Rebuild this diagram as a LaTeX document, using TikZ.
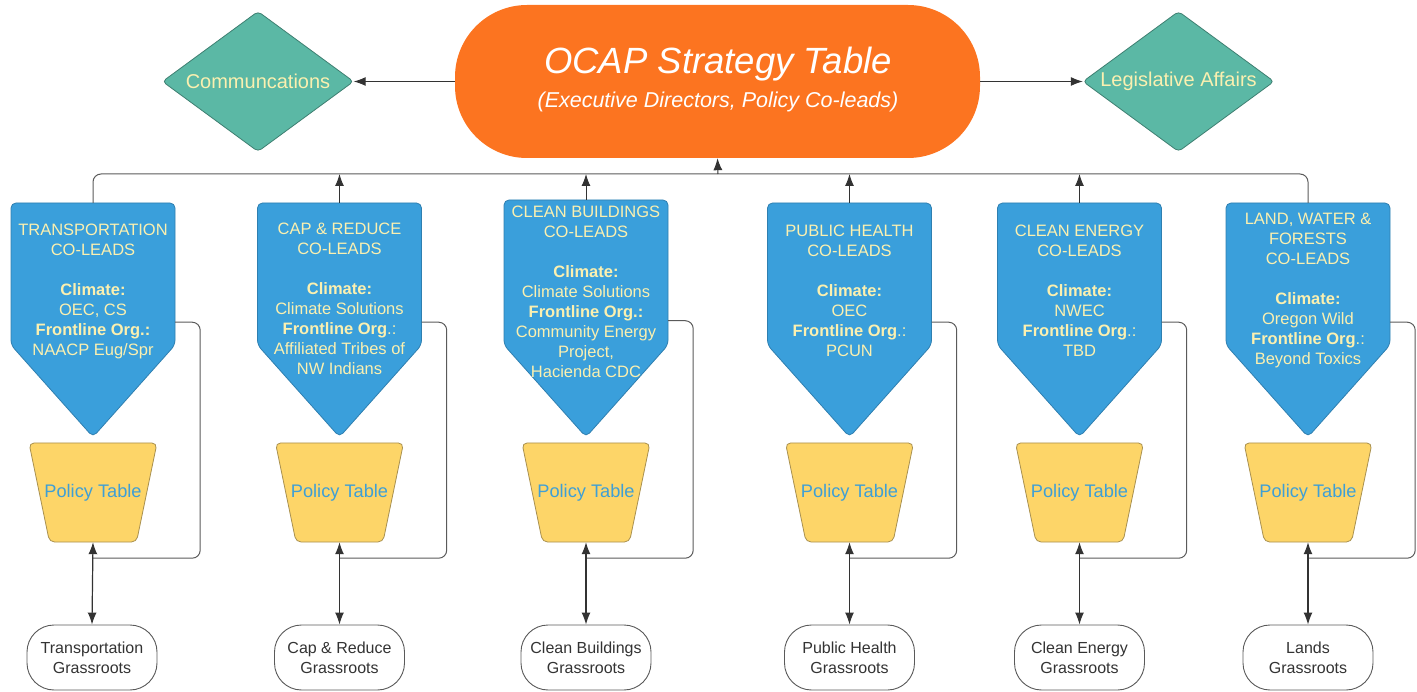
\documentclass[tikz,border=0pt]{standalone}
\usepackage{fontspec}
\setmainfont{Liberation Sans}
\usetikzlibrary{shapes.geometric,arrows.meta}
\definecolor{orangeC}{HTML}{FC7420}
\definecolor{tealC}{HTML}{5BB8A5}
\definecolor{tealD}{HTML}{3E7F71}
\definecolor{blueC}{HTML}{3A9FDB}
\definecolor{blueD}{HTML}{2F7FB0}
\definecolor{yellowC}{HTML}{FDD568}
\definecolor{yellowD}{HTML}{A89050}
\definecolor{paleC}{HTML}{FBF0B0}
\definecolor{ptxt}{HTML}{3E9FD6}
\definecolor{lineC}{HTML}{5A5A5A}
\definecolor{tipC}{HTML}{333333}
\newcommand\mkblue[2]{%
  \filldraw[fill=blueC, draw=blueD, line width=0.8pt, rounded corners=5pt]
    (#1-82,#2) -- (#1+82,#2) -- (#1+82,345) -- (#1,437) -- (#1-82,345) -- cycle;}
\newcommand\mkptable[1]{%
  \filldraw[fill=yellowC, draw=yellowD, line width=0.8pt, rounded corners=5pt]
    (#1-64,443) -- (#1+64,443) -- (#1+43.5,542) -- (#1-43.5,542) -- cycle;}
\newcommand\mkdia[1]{%
  \filldraw[fill=tealC, draw=tealD, line width=0.8pt, rounded corners=4pt]
    (#1-95.5,81.5) -- (#1,11.5) -- (#1+95.5,81.5) -- (#1,151.5) -- cycle;}
\begin{document}
\begin{tikzpicture}[x=1pt,y=-1pt,
  conn/.style={draw=lineC, line width=1pt},
  arr/.style={conn, -{Latex[length=12pt,width=9pt]}, color=tipC},
  darr/.style={conn, {Latex[length=12pt,width=9pt]}-{Latex[length=12pt,width=9pt]}, color=tipC, line width=1.2pt},
  holder/.style={rectangle, inner sep=0pt, minimum width=164pt, minimum height=234pt, anchor=north},
  ptholder/.style={rectangle, inner sep=0pt, minimum width=128pt, minimum height=99pt, text=ptxt, font=\fontsize{18.2}{20}\selectfont},
  btext/.style={align=center, text=paleC, font=\fontsize{16.5}{20}\selectfont, inner sep=0pt},
  grass/.style={draw=lineC, line width=0.9pt, fill=white, rounded corners=27pt, minimum width=130pt, minimum height=65pt, align=center, text=tipC, font=\fontsize{16}{20}\selectfont, inner sep=0pt},
  dia/.style={rectangle, minimum width=191pt, minimum height=140pt, inner sep=0pt, text=paleC, font=\fontsize{20}{22}\selectfont},
]
\useasboundingbox (0,0) rectangle (1417,692);

% top
\node[fill=orangeC, rounded corners=72pt, minimum width=525pt, minimum height=153pt, inner sep=0pt] (o) at (717.5,81.5) {};
\node[text=white, font=\itshape\fontsize{36.5}{40}\selectfont, inner sep=0pt] (ot) at (718,64) {OCAP Strategy Table};
\node[text=white, font=\itshape\fontsize{21.5}{24}\selectfont, inner sep=0pt] (os) at (718,102) {(Executive Directors, Policy Co-leads)};
\mkdia{258}
\mkdia{1178.5}
\node[dia] (com) at (258,81.5) {Communcations};
\node[dia] (leg) at (1178.5,81.5) {Legislative Affairs};
\draw[arr] (o.west) -- (com.east);
\draw[arr] (o.east) -- (leg.west);

% blue boxes
\mkblue{93}{203}
\mkblue{339.5}{203}
\mkblue{586}{200}
\mkblue{849.5}{203}
\mkblue{1079.5}{203}
\mkblue{1308}{203}
\node[holder] (b1) at (93,203) {};
\node[holder] (b2) at (339.5,203) {};
\node[holder, minimum height=237pt] (b3) at (586,200) {};
\node[holder] (b4) at (849.5,203) {};
\node[holder] (b5) at (1079.5,203) {};
\node[holder] (b6) at (1308,203) {};

\node[btext] (t1) at (93,291) {TRANSPORTATION\\CO-LEADS\\[20pt]\textbf{Climate:}\\OEC, CS\\\textbf{Frontline Org.:}\\NAACP Eug/Spr};
\node[btext] (t2) at (339.5,299) {CAP \& REDUCE\\CO-LEADS\\[20pt]\textbf{Climate:}\\Climate Solutions\\\textbf{Frontline Org}.:\\Affiliated Tribes of\\NW Indians};
\node[btext] (t3) at (586,292) {CLEAN BUILDINGS\\CO-LEADS\\[20pt]\textbf{Climate:}\\Climate Solutions\\\textbf{Frontline Org.:}\\Community Energy\\Project,\\Hacienda CDC};
\node[btext] (t4) at (849.5,291) {PUBLIC HEALTH\\CO-LEADS\\[20pt]\textbf{Climate:}\\OEC\\\textbf{Frontline Org}.:\\PCUN};
\node[btext] (t5) at (1079.5,291) {CLEAN ENERGY\\CO-LEADS\\[20pt]\textbf{Climate:}\\NWEC\\\textbf{Frontline Org}.:\\TBD};
\node[btext] (t6) at (1308,291) {LAND, WATER \&\\FORESTS\\CO-LEADS\\[20pt]\textbf{Climate:}\\Oregon Wild\\\textbf{Frontline Org}.:\\Beyond Toxics};

% bus
\coordinate (busL) at (93,174);
\coordinate (busR) at (1308,174);
\coordinate (busM) at (718,174);
\draw[conn, rounded corners=8pt] (b1.north) -- (busL) -- (busR) -- (b6.north);
\foreach \b in {b2,b3,b4,b5}{\draw[arr] (\b.north) -- (\b.north |- busL);}
\draw[arr] (busM) -- (o.south);

% policy tables
\foreach \x in {93,339.5,586,849.5,1079.5,1308}{\mkptable{\x}}
\node[ptholder] (p1) at (93,492.5) {Policy Table};
\node[ptholder] (p2) at (339.5,492.5) {Policy Table};
\node[ptholder] (p3) at (586,492.5) {Policy Table};
\node[ptholder] (p4) at (849.5,492.5) {Policy Table};
\node[ptholder] (p5) at (1079.5,492.5) {Policy Table};
\node[ptholder] (p6) at (1308,492.5) {Policy Table};

% grassroots
\node[grass] (g1) at (92,657.5) {Transportation\\Grassroots};
\node[grass] (g2) at (339.5,657.5) {Cap \& Reduce\\Grassroots};
\node[grass] (g3) at (586,657.5) {Clean Buildings\\Grassroots};
\node[grass] (g4) at (849.5,657.5) {Public Health\\Grassroots};
\node[grass] (g5) at (1079.5,657.5) {Clean Energy\\Grassroots};
\node[grass] (g6) at (1308,657.5) {Lands\\Grassroots};

% connectors
\foreach \i in {1,...,6}{
  \coordinate (j\i) at ([yshift=-16pt]p\i.south);
  \draw[conn, rounded corners=8pt] ([yshift=-2pt]b\i.east) -- ++(25,0) |- (j\i);
  \draw[darr] (p\i.south) -- (g\i.north);
}
\end{tikzpicture}
\end{document}
